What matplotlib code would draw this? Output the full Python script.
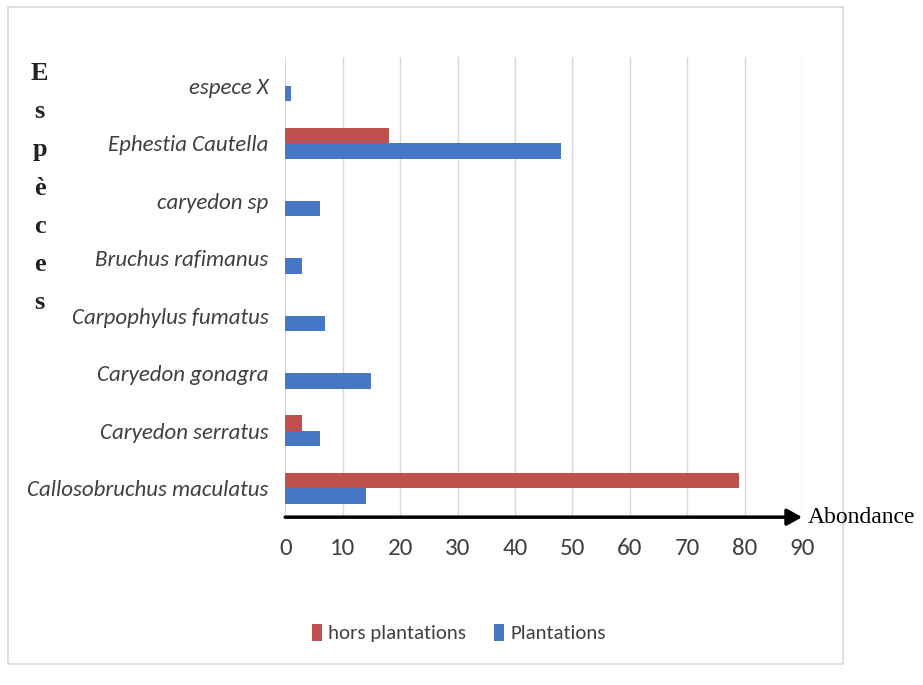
import matplotlib.pyplot as plt
from matplotlib.patches import Rectangle
import numpy as np

# species, listed bottom to top
especes = ["Callosobruchus maculatus", "Caryedon serratus", "Caryedon gonagra",
           "Carpophylus fumatus", "Bruchus rafimanus", "caryedon sp",
           "Ephestia Cautella", "espece X"]
hors_plantations = [79, 3, 0, 0, 0, 0, 18, 0]
plantations = [14, 6, 15, 7, 3, 6, 48, 1]
x_ticks = [0, 10, 20, 30, 40, 50, 60, 70, 80, 90]

red = "#C0504D"
blue = "#4677C4"
label_font = ["Carlito", "Roboto Condensed", "Liberation Sans Narrow", "DejaVu Sans"]

fig = plt.figure(figsize=(9.23, 6.85), dpi=100)
ax = fig.add_axes([0.309, 0.245, 0.560, 0.672])

y = np.arange(len(especes))
h = 0.27
ax.barh(y + h / 2, hors_plantations, height=h, color=red, label="hors plantations", zorder=3)
ax.barh(y - h / 2, plantations, height=h, color=blue, label="Plantations", zorder=3)

ax.set_xlim(0, 90)
ax.set_ylim(-0.5, len(especes) - 0.5)
ax.set_xticks(x_ticks)
ax.set_yticks(y)
ax.set_yticklabels(especes, fontsize=16.5, style="italic", color="#404040", family=label_font)
ax.set_xticklabels([str(v) for v in x_ticks], fontsize=18, color="#404040", family=label_font)
ax.tick_params(axis="x", length=0, pad=15)
ax.tick_params(axis="y", length=0, pad=12)
ax.grid(axis="x", color="#d9d9d9", linewidth=1, zorder=0)
for s in ax.spines.values():
    s.set_visible(False)

# x axis drawn as a black arrow
ax.annotate("", xy=(90, 0), xytext=(0, 0),
            xycoords=ax.get_xaxis_transform(), textcoords=ax.get_xaxis_transform(),
            arrowprops=dict(arrowstyle="-|>,head_length=0.9,head_width=0.5",
                            color="black", lw=2.5, shrinkA=0, shrinkB=0),
            annotation_clip=False, zorder=5)
fig.text(0.875, 0.245, "Abondance", fontsize=17, family="Liberation Serif",
         ha="left", va="center", color="black")

# vertical axis title, one letter per line
fig.text(0.043, 0.91, "E\ns\np\nè\nc\ne\ns", fontsize=19, family="Liberation Serif",
         weight="bold", ha="center", va="top", linespacing=1.85, color="#222222")

fig.legend(loc="center", bbox_to_anchor=(0.497, 0.076), ncol=2, frameon=False,
           handlelength=0.5, handleheight=0.9, columnspacing=1.3,
           handletextpad=0.3, prop={"family": label_font, "size": 15},
           labelcolor="#404040")

# light border round the chart area
fig.patches.append(Rectangle((0.009, 0.03), 0.904, 0.96, transform=fig.transFigure,
                             fill=False, edgecolor="#d9d9d9", linewidth=1.2))

fig.savefig("out.png", dpi=100)
